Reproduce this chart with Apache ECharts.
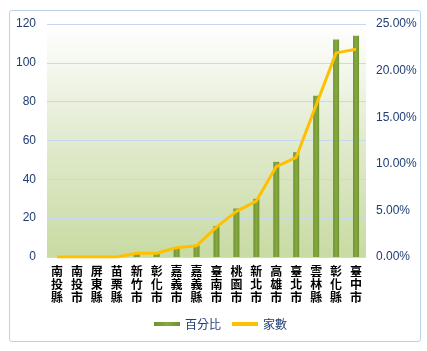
<!DOCTYPE html>
<html>
<head>
<meta charset="utf-8">
<script src="https://cdn.jsdelivr.net/npm/echarts@6/dist/echarts.min.js"></script>
<style>
  html, body { margin: 0; padding: 0; background: #fff; }
  #wrap {
    position: absolute; left: 9px; top: 10px; width: 412px; height: 332px;
    border: 1px solid #bcd2ea; border-radius: 3px; box-sizing: border-box;
  }
  #chart { position: absolute; left: 0; top: 0; width: 427px; height: 351px; }
</style>
</head>
<body>
<div id="wrap"></div>
<div id="chart"></div>
<script>
// 類別
const categories = ['南投縣', '南投市', '屏東縣', '苗栗縣', '新竹市', '彰化市', '嘉義市', '嘉義縣',
  '臺南市', '桃園市', '新北市', '高雄市', '臺北市', '雲林縣', '彰化縣', '臺中市']
// 柱（左軸）
const barValues = [0, 0, 0, 0, 2, 2, 5, 6, 16, 25, 30, 49, 54, 83, 112, 114]
// 線（右軸，比例）
const lineValues = [0, 0, 0, 0, 0.004, 0.004, 0.010, 0.012, 0.032, 0.049, 0.060, 0.097, 0.107, 0.163, 0.219, 0.223]
const leftTicks = { min: 0, max: 120, interval: 20 }
const rightTicks = { min: 0, max: 0.25, interval: 0.05 }

const labelColor = '#1f3d73'
const chart = echarts.init(document.getElementById('chart'))

const option = {
  animation: false,
  grid: {
    left: 47, right: 61, top: 24, bottom: 94,
    show: true,
    borderWidth: 0,
    backgroundColor: new echarts.graphic.LinearGradient(0, 0, 0, 1, [
      { offset: 0, color: '#ffffff' },
      { offset: 0.45, color: '#e4ecd3' },
      { offset: 1, color: '#c8dba3' }
    ])
  },
  legend: {
    bottom: 16,
    left: 149,
    itemGap: 11,
    itemWidth: 26,
    itemHeight: 4,
    textStyle: { color: labelColor, fontSize: 12, fontFamily: 'Noto Sans CJK TC' },
    data: [
      { name: '百分比', icon: 'rect' },
      { name: '家數', icon: 'rect' }
    ]
  },
  xAxis: {
    type: 'category',
    data: categories,
    axisLine: { show: false },
    axisTick: { show: false },
    axisLabel: {
      interval: 0,
      margin: 8,
      color: '#000',
      fontSize: 12,
      fontWeight: 'bold',
      lineHeight: 13,
      fontFamily: 'Noto Sans CJK TC',
      formatter: (v) => v.split('').join('\n')
    }
  },
  yAxis: [
    {
      type: 'value',
      min: leftTicks.min, max: leftTicks.max, interval: leftTicks.interval,
      axisLine: { show: false },
      axisTick: { show: false },
      splitLine: { lineStyle: { color: '#c5d9f1', width: 1 } },
      axisLabel: { color: labelColor, fontSize: 12, margin: 11, fontFamily: 'Liberation Sans' }
    },
    {
      type: 'value',
      min: rightTicks.min, max: rightTicks.max, interval: rightTicks.interval,
      axisLine: { show: false },
      axisTick: { show: false },
      splitLine: { show: false },
      axisLabel: {
        color: labelColor, fontSize: 12, margin: 10, fontFamily: 'Liberation Sans',
        formatter: (v) => (v * 100).toFixed(2) + '%'
      }
    }
  ],
  series: [
    {
      name: '百分比',
      type: 'bar',
      yAxisIndex: 0,
      barWidth: 6,
      itemStyle: {
        color: new echarts.graphic.LinearGradient(0, 0, 1, 0, [
          { offset: 0, color: '#6f9131' },
          { offset: 0.5, color: '#86ab40' },
          { offset: 1, color: '#6f9131' }
        ])
      },
      data: barValues
    },
    {
      name: '家數',
      type: 'line',
      yAxisIndex: 1,
      showSymbol: false,
      symbol: 'none',
      lineStyle: { color: '#ffc000', width: 3 },
      itemStyle: { color: '#ffc000' },
      data: lineValues
    }
  ]
}
chart.setOption(option)
</script>
</body>
</html>
